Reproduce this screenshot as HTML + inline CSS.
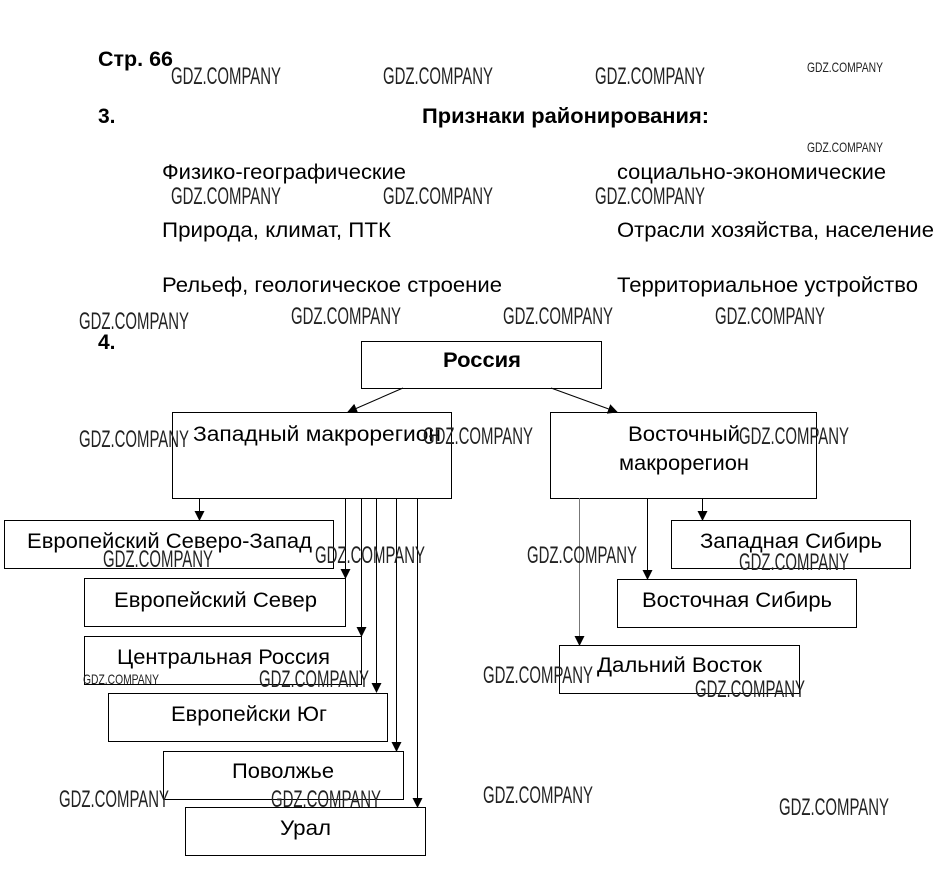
<!DOCTYPE html><html><head><meta charset="utf-8"><style>body{margin:0;background:#fff}svg{display:block}</style></head><body>
<svg width="944" height="869" xmlns="http://www.w3.org/2000/svg" font-family="Liberation Sans, sans-serif">
<defs><marker id="a" markerWidth="10" markerHeight="10" refX="9" refY="5" orient="auto" markerUnits="userSpaceOnUse"><path d="M0,0 L10,5 L0,10z" fill="#000"/></marker></defs>
<g font-size="21" fill="#000">
<text x="98" y="66" font-weight="bold" textLength="75" lengthAdjust="spacingAndGlyphs">Стр. 66</text>
<text x="98" y="123" font-weight="bold">3.</text>
<text x="422" y="123" font-weight="bold" textLength="287" lengthAdjust="spacingAndGlyphs">Признаки районирования:</text>
<text x="162" y="179" textLength="244" lengthAdjust="spacingAndGlyphs">Физико-географические</text>
<text x="617" y="179" textLength="269" lengthAdjust="spacingAndGlyphs">социально-экономические</text>
<text x="162" y="237" textLength="229" lengthAdjust="spacingAndGlyphs">Природа, климат, ПТК</text>
<text x="617" y="237" textLength="317" lengthAdjust="spacingAndGlyphs">Отрасли хозяйства, население</text>
<text x="162" y="292" textLength="340" lengthAdjust="spacingAndGlyphs">Рельеф, геологическое строение</text>
<text x="617" y="292" textLength="301" lengthAdjust="spacingAndGlyphs">Территориальное устройство</text>
<text x="98" y="349" font-weight="bold">4.</text>
</g>
<g fill="none" stroke="#000" stroke-width="1">
<rect x="361.5" y="341.5" width="240" height="47"/>
<rect x="172.5" y="412.5" width="279" height="86"/>
<rect x="550.5" y="412.5" width="266" height="86"/>
<rect x="4.5" y="520.5" width="329" height="48"/>
<rect x="84.5" y="578.5" width="261" height="48"/>
<rect x="84.5" y="636.5" width="277" height="48"/>
<rect x="108.5" y="693.5" width="279" height="48"/>
<rect x="163.5" y="751.5" width="240" height="48"/>
<rect x="185.5" y="807.5" width="240" height="48"/>
<rect x="671.5" y="520.5" width="239" height="48"/>
<rect x="617.5" y="579.5" width="239" height="48"/>
<rect x="559.5" y="645.5" width="240" height="48"/>
<g marker-end="url(#a)">
<line x1="403" y1="388" x2="348" y2="412"/>
<line x1="551" y1="388" x2="617" y2="412"/>
<line x1="199.5" y1="498" x2="199.5" y2="520"/>
<line x1="345.5" y1="498" x2="345.5" y2="578"/>
<line x1="361.5" y1="498" x2="361.5" y2="636"/>
<line x1="376.5" y1="498" x2="376.5" y2="692"/>
<line x1="396.5" y1="498" x2="396.5" y2="751"/>
<line x1="417.5" y1="498" x2="417.5" y2="807"/>
<line x1="579.5" y1="498" x2="579.5" y2="645" stroke="#777"/>
<line x1="647.5" y1="498" x2="647.5" y2="579"/>
<line x1="702.5" y1="498" x2="702.5" y2="520"/>
</g></g>
<g font-size="21" fill="#000">
<text x="443" y="367" font-weight="bold" textLength="78" lengthAdjust="spacingAndGlyphs">Россия</text>
<text x="193" y="441" textLength="248" lengthAdjust="spacingAndGlyphs">Западный макрорегион</text>
<text x="628" y="441" textLength="112" lengthAdjust="spacingAndGlyphs">Восточный</text>
<text x="619" y="470" textLength="130" lengthAdjust="spacingAndGlyphs">макрорегион</text>
<text x="27" y="548" textLength="285" lengthAdjust="spacingAndGlyphs">Европейский Северо-Запад</text>
<text x="114" y="607" textLength="203" lengthAdjust="spacingAndGlyphs">Европейский Север</text>
<text x="117" y="664" textLength="213" lengthAdjust="spacingAndGlyphs">Центральная Россия</text>
<text x="171" y="721" textLength="156" lengthAdjust="spacingAndGlyphs">Европейски Юг</text>
<text x="232" y="778" textLength="102" lengthAdjust="spacingAndGlyphs">Поволжье</text>
<text x="280" y="835" textLength="51" lengthAdjust="spacingAndGlyphs">Урал</text>
<text x="700" y="548" textLength="182" lengthAdjust="spacingAndGlyphs">Западная Сибирь</text>
<text x="642" y="607" textLength="190" lengthAdjust="spacingAndGlyphs">Восточная Сибирь</text>
<text x="597" y="672" textLength="165" lengthAdjust="spacingAndGlyphs">Дальний Восток</text>
</g>
<g fill="#222" font-size="24">
<text x="171" y="84" textLength="110" lengthAdjust="spacingAndGlyphs">GDZ.COMPANY</text>
<text x="383" y="84" textLength="110" lengthAdjust="spacingAndGlyphs">GDZ.COMPANY</text>
<text x="595" y="84" textLength="110" lengthAdjust="spacingAndGlyphs">GDZ.COMPANY</text>
<text x="171" y="204" textLength="110" lengthAdjust="spacingAndGlyphs">GDZ.COMPANY</text>
<text x="383" y="204" textLength="110" lengthAdjust="spacingAndGlyphs">GDZ.COMPANY</text>
<text x="595" y="204" textLength="110" lengthAdjust="spacingAndGlyphs">GDZ.COMPANY</text>
<text x="79" y="329" textLength="110" lengthAdjust="spacingAndGlyphs">GDZ.COMPANY</text>
<text x="291" y="324" textLength="110" lengthAdjust="spacingAndGlyphs">GDZ.COMPANY</text>
<text x="503" y="324" textLength="110" lengthAdjust="spacingAndGlyphs">GDZ.COMPANY</text>
<text x="715" y="324" textLength="110" lengthAdjust="spacingAndGlyphs">GDZ.COMPANY</text>
<text x="79" y="447" textLength="110" lengthAdjust="spacingAndGlyphs">GDZ.COMPANY</text>
<text x="423" y="444" textLength="110" lengthAdjust="spacingAndGlyphs">GDZ.COMPANY</text>
<text x="739" y="444" textLength="110" lengthAdjust="spacingAndGlyphs">GDZ.COMPANY</text>
<text x="103" y="567" textLength="110" lengthAdjust="spacingAndGlyphs">GDZ.COMPANY</text>
<text x="315" y="563" textLength="110" lengthAdjust="spacingAndGlyphs">GDZ.COMPANY</text>
<text x="527" y="563" textLength="110" lengthAdjust="spacingAndGlyphs">GDZ.COMPANY</text>
<text x="739" y="570" textLength="110" lengthAdjust="spacingAndGlyphs">GDZ.COMPANY</text>
<text x="259" y="687" textLength="110" lengthAdjust="spacingAndGlyphs">GDZ.COMPANY</text>
<text x="483" y="683" textLength="110" lengthAdjust="spacingAndGlyphs">GDZ.COMPANY</text>
<text x="695" y="697" textLength="110" lengthAdjust="spacingAndGlyphs">GDZ.COMPANY</text>
<text x="59" y="807" textLength="110" lengthAdjust="spacingAndGlyphs">GDZ.COMPANY</text>
<text x="271" y="807" textLength="110" lengthAdjust="spacingAndGlyphs">GDZ.COMPANY</text>
<text x="483" y="803" textLength="110" lengthAdjust="spacingAndGlyphs">GDZ.COMPANY</text>
<text x="779" y="815" textLength="110" lengthAdjust="spacingAndGlyphs">GDZ.COMPANY</text>
</g>
<g fill="#222" font-size="14">
<text x="807" y="72" textLength="76" lengthAdjust="spacingAndGlyphs">GDZ.COMPANY</text>
<text x="807" y="152" textLength="76" lengthAdjust="spacingAndGlyphs">GDZ.COMPANY</text>
<text x="83" y="684" textLength="76" lengthAdjust="spacingAndGlyphs">GDZ.COMPANY</text>
</g>
</svg></body></html>
